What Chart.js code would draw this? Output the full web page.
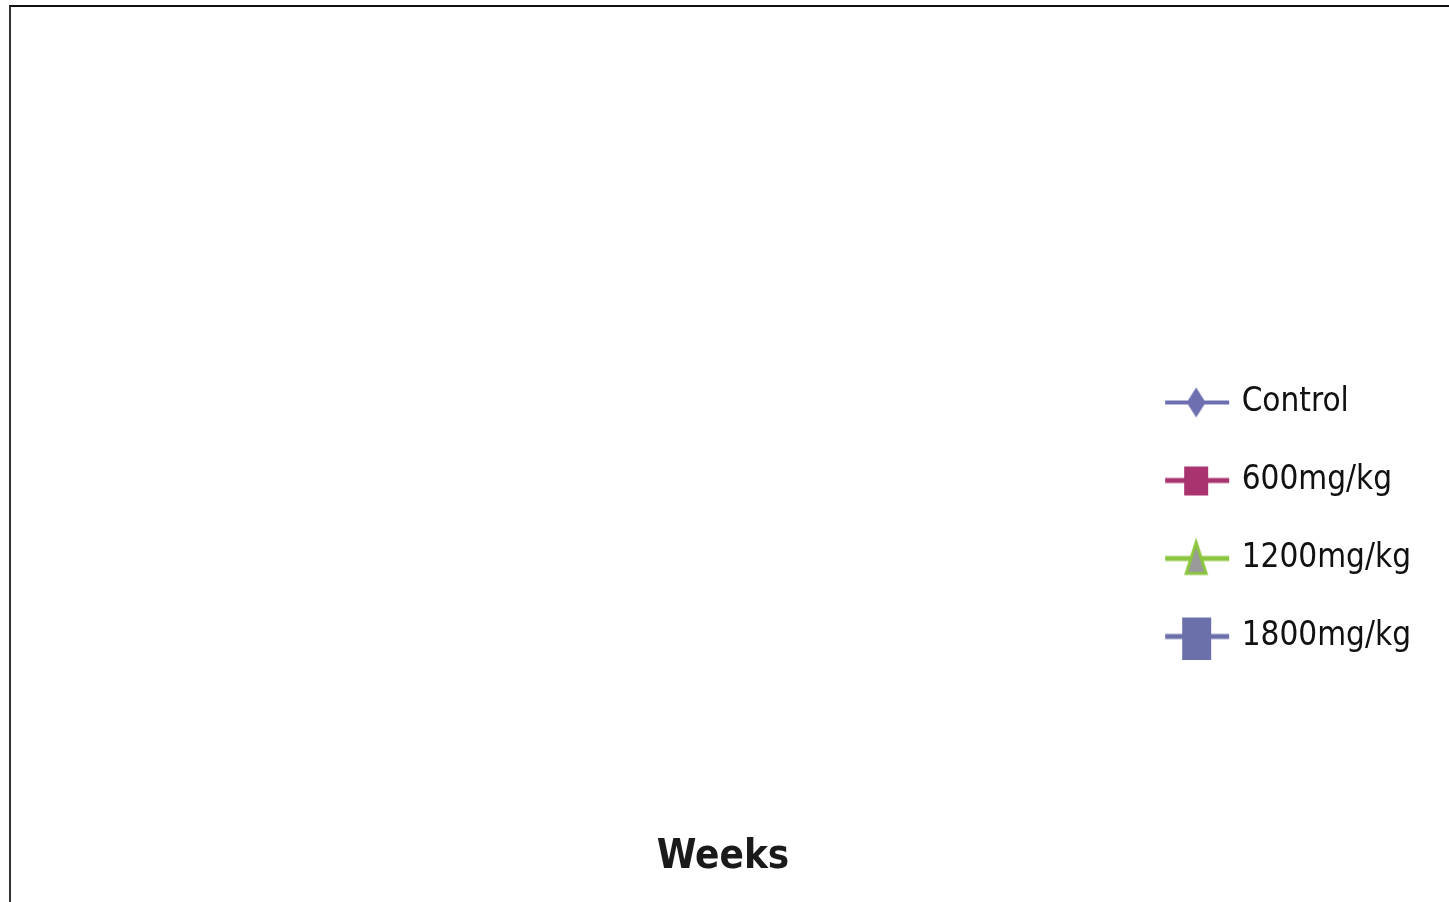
<!DOCTYPE html>
<html>
<head>
<meta charset="utf-8">
<script src="https://cdn.jsdelivr.net/npm/chart.js@4"></script>
<style>
  html, body { margin: 0; padding: 0; background: #fff; }
  #frame {
    position: absolute; left: 9px; top: 5px;
    width: 1440px; height: 897px; box-sizing: border-box;
    border-top: 2px solid #111; border-left: 2px solid #333;
  }
  #frame canvas { display: block; }
</style>
</head>
<body>
<div id="frame"><canvas id="myChart"></canvas></div>
<script>
// Weekly readings per dose group (none plotted in this panel)
const weeks = [];
const control = [];
const dose600 = [];
const dose1200 = [];
const dose1800 = [];

const seriesNames = ['Control', '600mg/kg', '1200mg/kg', '1800mg/kg'];
const seriesColors = ['#6d6fb0', '#a8336e', '#8cc63f', '#6b6faa'];

const fontFamily = "'Liberation Sans Narrow', 'DejaVu Sans Condensed', 'Liberation Sans', Arial, sans-serif";

// legend swatch: a short line with the series marker in the middle
const makeIcon = (lineColor, lineWidth, drawMarker) => {
  const c = document.createElement('canvas');
  c.width = 66;
  c.height = 46;
  const g = c.getContext('2d');
  g.strokeStyle = lineColor;
  g.lineWidth = lineWidth;
  g.beginPath();
  g.moveTo(1, 23);
  g.lineTo(65, 23);
  g.stroke();
  drawMarker(g, 32, 23);
  return c;
};

const icons = [
  makeIcon(seriesColors[0], 4, (g, x, y) => {
    g.fillStyle = seriesColors[0];
    g.beginPath();
    g.moveTo(x, y - 15);
    g.lineTo(x + 9.5, y);
    g.lineTo(x, y + 15);
    g.lineTo(x - 9.5, y);
    g.closePath();
    g.fill();
  }),
  makeIcon(seriesColors[1], 5, (g, x, y) => {
    g.fillStyle = seriesColors[1];
    g.fillRect(x - 12, y - 14, 24, 29);
  }),
  makeIcon(seriesColors[2], 5, (g, x, y) => {
    g.fillStyle = '#9a9a9a';
    g.strokeStyle = seriesColors[2];
    g.lineWidth = 3;
    g.beginPath();
    g.moveTo(x, y - 16);
    g.lineTo(x + 10, y + 15);
    g.lineTo(x - 10, y + 15);
    g.closePath();
    g.fill();
    g.stroke();
  }),
  makeIcon(seriesColors[3], 5, (g, x, y) => {
    g.fillStyle = seriesColors[3];
    g.fillRect(x - 14, y - 19, 29, 42);
  })
];

const seriesData = [control, dose600, dose1200, dose1800];

let ctx = document.getElementById('myChart').getContext('2d');
let chart = new Chart(ctx, {
  type: 'line',
  data: {
    labels: weeks,
    datasets: seriesNames.map((name, i) => ({
      label: name,
      data: seriesData[i],
      borderColor: seriesColors[i],
      backgroundColor: seriesColors[i],
      borderWidth: 4,
      pointStyle: icons[i]
    }))
  },
  options: {
    responsive: true,
    maintainAspectRatio: false,
    animation: false,
    layout: { padding: { left: 14, right: 28 } },
    scales: {
      x: { display: false },
      y: { display: false }
    },
    plugins: {
      legend: {
        position: 'right',
        align: 'end',
        fullSize: false,
        labels: {
          usePointStyle: true,
          pointStyleWidth: 56,
          padding: 45,
          color: '#111',
          font: { family: fontFamily, size: 33 },
          generateLabels: c => c.data.datasets.map((ds, i) => ({
            text: ds.label,
            pointStyle: icons[i],
            fontColor: '#111',
            fillStyle: ds.backgroundColor,
            strokeStyle: ds.borderColor,
            lineWidth: 0,
            datasetIndex: i
          }))
        }
      },
      title: {
        display: true,
        position: 'bottom',
        text: 'Weeks',
        color: '#1a1a1a',
        font: { family: fontFamily, size: 40, weight: 'bold' },
        padding: { top: 136, bottom: 20 }
      },
      tooltip: { enabled: false }
    }
  }
});
</script>
</body>
</html>
